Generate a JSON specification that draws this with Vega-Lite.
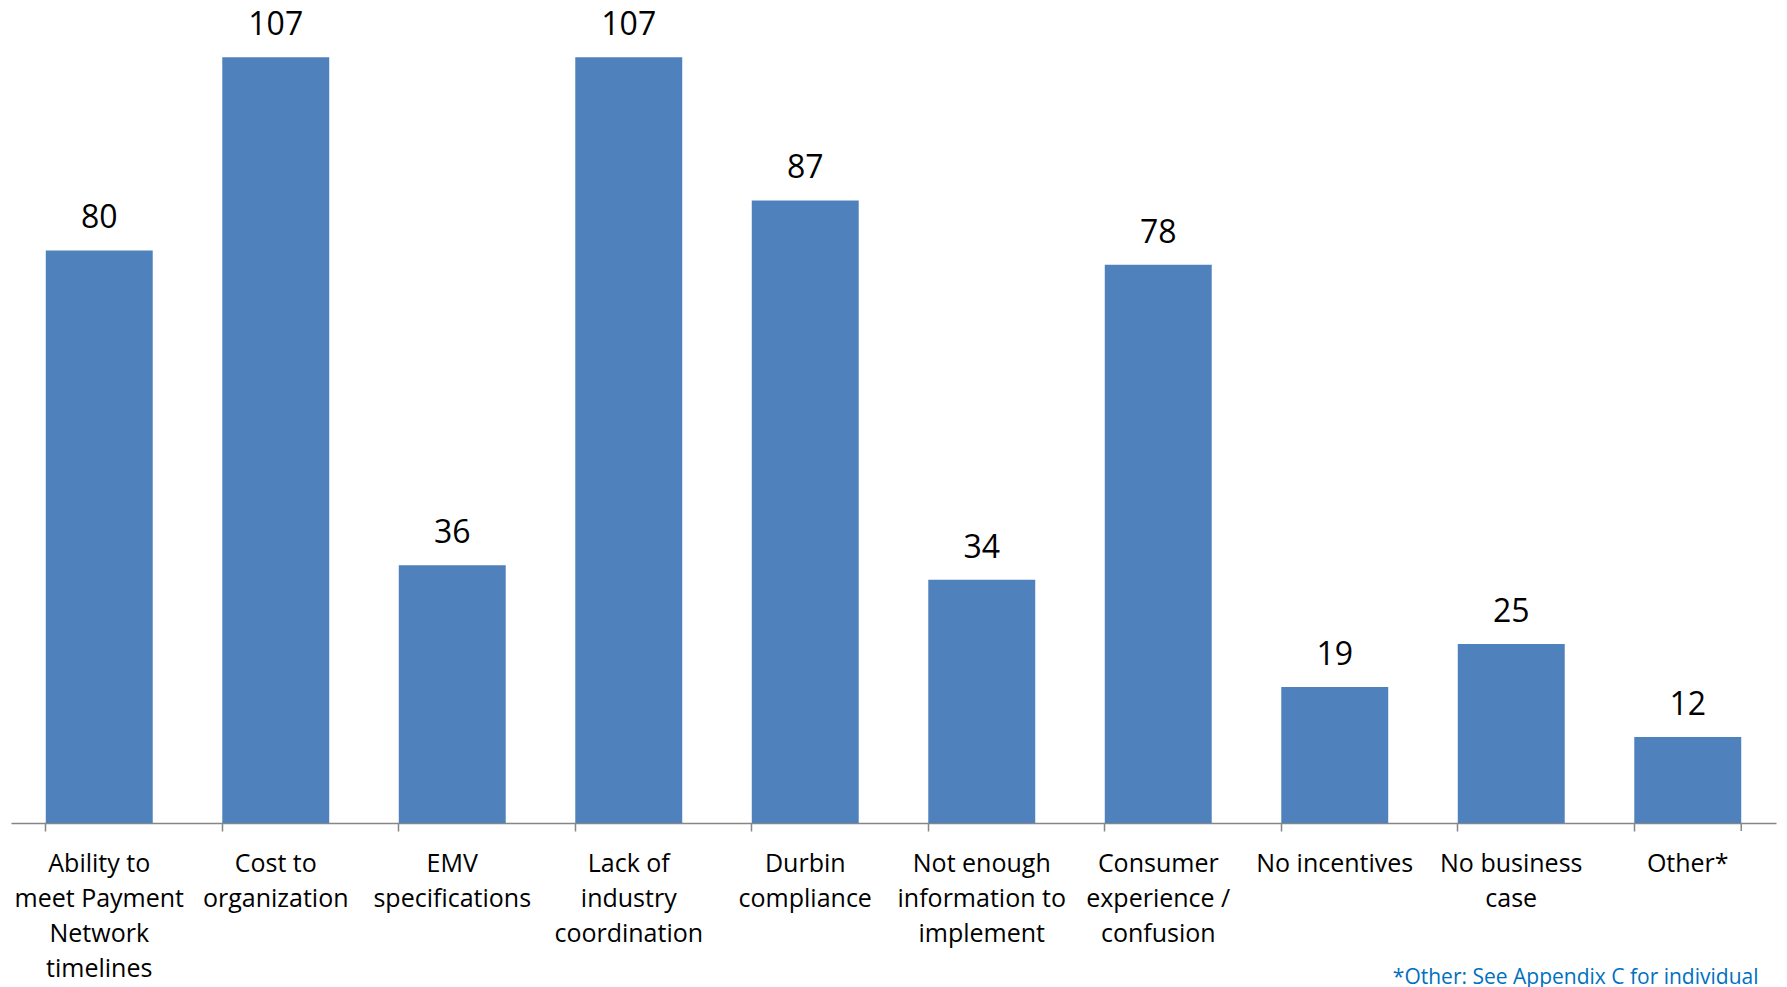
{
  "$schema": "https://vega.github.io/schema/vega-lite/v6.json",
  "width": 1765,
  "height": 823,
  "padding": {"left": 11, "right": 11, "top": 0, "bottom": 0},
  "background": "white",
  "config": {
    "view": {"stroke": null},
    "font": "Open Sans"
  },
  "data": {
    "values": [
      {"category": "Ability to|meet Payment|Network|timelines", "count": 80},
      {"category": "Cost to|organization", "count": 107},
      {"category": "EMV|specifications", "count": 36},
      {"category": "Lack of|industry|coordination", "count": 107},
      {"category": "Durbin|compliance", "count": 87},
      {"category": "Not enough|information to|implement", "count": 34},
      {"category": "Consumer|experience /|confusion", "count": 78},
      {"category": "No incentives", "count": 19},
      {"category": "No business|case", "count": 25},
      {"category": "Other*", "count": 12}
    ]
  },
  "encoding": {
    "x": {
      "field": "category",
      "type": "nominal",
      "sort": null,
      "scale": {"paddingInner": 0.394, "paddingOuter": 0.197},
      "axis": {
        "title": "*Other: See Appendix C  for individual",
        "titleColor": "#0070C0",
        "titleFont": "Open Sans",
        "titleFontSize": 21,
        "titleFontWeight": "normal",
        "titleAlign": "right",
        "titleBaseline": "top",
        "titleX": 1747,
        "titleY": 143,
        "labelExpr": "split(datum.label, '|')",
        "labelAngle": 0,
        "labelFont": "Open Sans",
        "labelFontSize": 25,
        "labelLineHeight": 35,
        "labelColor": "#000000",
        "labelBaseline": "alphabetic",
        "labelPadding": 40,
        "labelLimit": 0,
        "labelOverlap": false,
        "bandPosition": 0,
        "tickSize": 8,
        "tickColor": "#868686",
        "domainColor": "#868686",
        "domainWidth": 1.5,
        "tickWidth": 1.5,
        "grid": false
      }
    },
    "y": {
      "field": "count",
      "type": "quantitative",
      "scale": {"domain": [0, 115], "nice": false},
      "axis": null
    }
  },
  "layer": [
    {"mark": {"type": "bar", "color": "#4F81BD"}},
    {
      "mark": {"type": "text", "baseline": "alphabetic", "dy": -22, "fontSize": 32, "font": "Open Sans", "color": "#000000"},
      "encoding": {"text": {"field": "count", "type": "quantitative"}}
    },
    {
      "transform": [{"filter": "datum.category == 'Other*'"}],
      "mark": {"type": "rule", "color": "#868686", "strokeWidth": 1.5, "y2Offset": 8},
      "encoding": {
        "x": {"field": "category", "type": "nominal", "sort": null, "bandPosition": 1},
        "y": {"datum": 0},
        "y2": {"datum": 0}
      }
    }
  ]
}
